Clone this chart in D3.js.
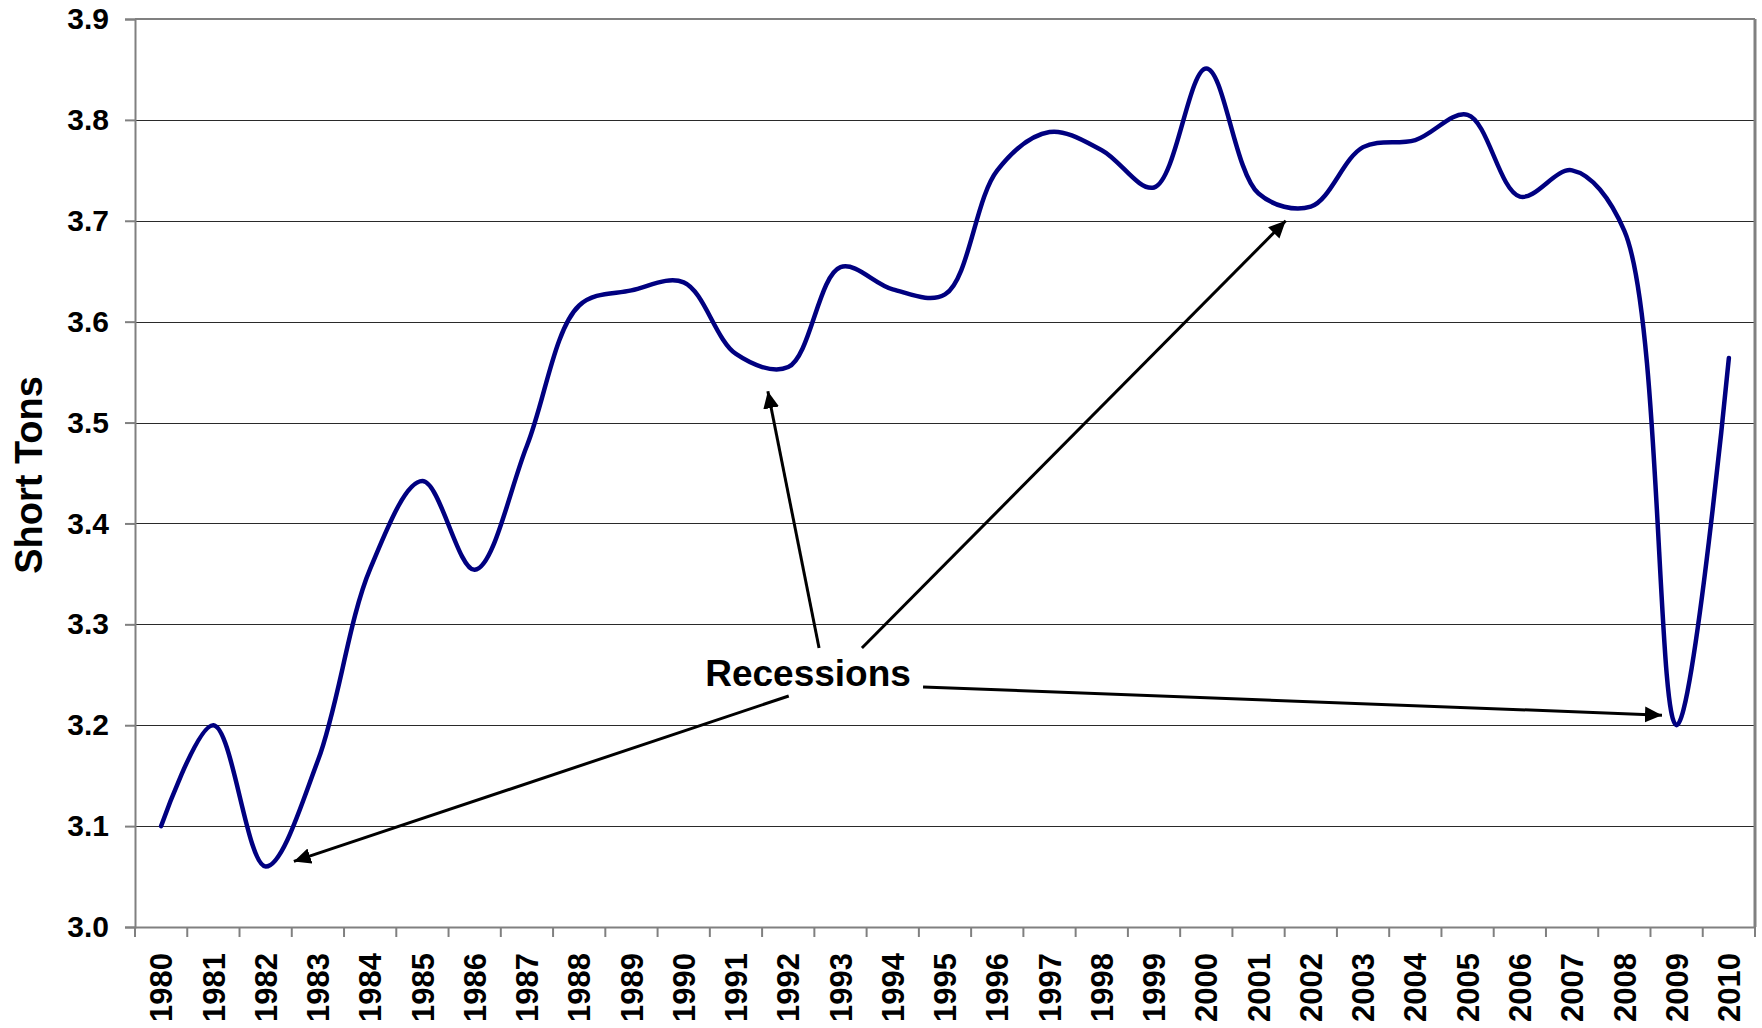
<!DOCTYPE html>
<html>
<head>
<meta charset="utf-8">
<script src="https://cdn.jsdelivr.net/npm/d3@7"></script>
<style>
  html, body { margin: 0; padding: 0; background: #fff; }
  svg { display: block; }
  text { font-family: "Liberation Sans", Arial, sans-serif; font-weight: bold; fill: #000; }
</style>
</head>
<body>
<svg id="chart" width="1762" height="1028"></svg>
<script>
// ---- data ----
const years = ["1980","1981","1982","1983","1984","1985","1986","1987","1988","1989",
               "1990","1991","1992","1993","1994","1995","1996","1997","1998","1999",
               "2000","2001","2002","2003","2004","2005","2006","2007","2008","2009","2010"];
const values = [3.10, 3.20, 3.06, 3.165, 3.355, 3.442, 3.354, 3.477, 3.616, 3.631,
                3.639, 3.568, 3.555, 3.654, 3.632, 3.627, 3.75, 3.788, 3.77, 3.733,
                3.851, 3.727, 3.714, 3.773, 3.78, 3.805, 3.724, 3.75, 3.69, 3.20, 3.564];
const yTicks = [3.0, 3.1, 3.2, 3.3, 3.4, 3.5, 3.6, 3.7, 3.8, 3.9];
const yTitle = "Short Tons";
const annotationText = "Recessions";
// annotation arrows in data space: [fromIndex, fromValue, toIndex, toValue]
const arrows = [
  [12.01, 3.229, 2.54, 3.065],
  [12.59, 3.2765, 11.61, 3.531],
  [13.41, 3.2765, 21.52, 3.700],
  [14.58, 3.238, 28.72, 3.210]
];
const labelPos = [12.38, 3.239];

// ---- layout ----
const svg = d3.select("#chart");
const L = 135, R = 1755, T = 19, B = 927;

const x = d3.scaleBand().domain(years).range([L, R]).padding(0);
const xi = d3.scaleLinear().domain([-0.5, years.length - 0.5]).range([L, R]);
const y = d3.scaleLinear().domain([3.0, 3.9]).range([B, T]);

// gridlines
svg.append("g").selectAll("line").data(yTicks.filter(d => d > 3.0)).join("line")
  .attr("x1", L).attr("x2", R)
  .attr("y1", d => Math.round(y(d)) + 0.5).attr("y2", d => Math.round(y(d)) + 0.5)
  .attr("stroke", "#2a2a2a").attr("stroke-width", 1);

// plot border (right + top)
svg.append("line").attr("x1", R).attr("x2", R).attr("y1", T).attr("y2", B)
  .attr("stroke", "#808080").attr("stroke-width", 3);
svg.append("line").attr("x1", L).attr("x2", R).attr("y1", T).attr("y2", T)
  .attr("stroke", "#808080").attr("stroke-width", 2);

// y axis
const yAxis = d3.axisLeft(y).tickValues(yTicks).tickFormat(d3.format(".1f"))
  .tickSize(10).tickPadding(16);
const gy = svg.append("g").attr("transform", `translate(${L},0)`).call(yAxis);
gy.select(".domain").attr("stroke", "#808080").attr("stroke-width", 2);
gy.selectAll(".tick line").attr("stroke", "#808080").attr("stroke-width", 2);
gy.selectAll(".tick text").style("font-size", "30px").style("font-family", "'Liberation Sans', Arial, sans-serif")
  .style("font-weight", "bold").attr("fill", "#000");

// x axis
const xAxis = d3.axisBottom(x).tickSize(0).tickPadding(0);
const gx = svg.append("g").attr("transform", `translate(0,${B})`).call(xAxis);
gx.select(".domain").attr("stroke", "#808080").attr("stroke-width", 2);
gx.selectAll(".tick text")
  .style("font-size", "31px").style("font-family", "'Liberation Sans', Arial, sans-serif")
  .style("font-weight", "bold").attr("fill", "#000")
  .attr("transform", "rotate(-90)")
  .attr("text-anchor", "end")
  .attr("x", -26).attr("y", 0).attr("dy", "0.36em");
// boundary tick marks
const bounds = d3.range(years.length + 1);
svg.append("g").selectAll("line").data(bounds).join("line")
  .attr("x1", d => xi(d - 0.5)).attr("x2", d => xi(d - 0.5))
  .attr("y1", B).attr("y2", B + 10)
  .attr("stroke", "#808080").attr("stroke-width", 2);

// y title
svg.append("text")
  .attr("transform", "translate(42,475) rotate(-90)")
  .attr("text-anchor", "middle")
  .style("font-size", "38px")
  .text(yTitle);

// line
const line = d3.line()
  .x((d, i) => x(years[i]) + x.bandwidth() / 2)
  .y(d => y(d))
  .curve(d3.curveCatmullRom.alpha(0.5));
svg.append("path").datum(values)
  .attr("d", line)
  .attr("fill", "none")
  .attr("stroke", "#000080")
  .attr("stroke-width", 4.5)
  .attr("stroke-linejoin", "round")
  .attr("stroke-linecap", "round");

// arrows
const defs = svg.append("defs");
defs.append("marker").attr("id", "ah")
  .attr("markerUnits", "userSpaceOnUse")
  .attr("markerWidth", 18).attr("markerHeight", 17)
  .attr("refX", 17).attr("refY", 8)
  .attr("orient", "auto")
  .append("path").attr("d", "M0,0 L17,8 L0,16 Z").attr("fill", "#000");

svg.append("g").selectAll("line").data(arrows).join("line")
  .attr("x1", d => xi(d[0])).attr("y1", d => y(d[1]))
  .attr("x2", d => xi(d[2])).attr("y2", d => y(d[3]))
  .attr("stroke", "#000").attr("stroke-width", 3)
  .attr("marker-end", "url(#ah)");

svg.append("text")
  .attr("x", xi(labelPos[0])).attr("y", y(labelPos[1]))
  .attr("text-anchor", "middle")
  .style("font-size", "37px")
  .text(annotationText);
</script>
</body>
</html>
